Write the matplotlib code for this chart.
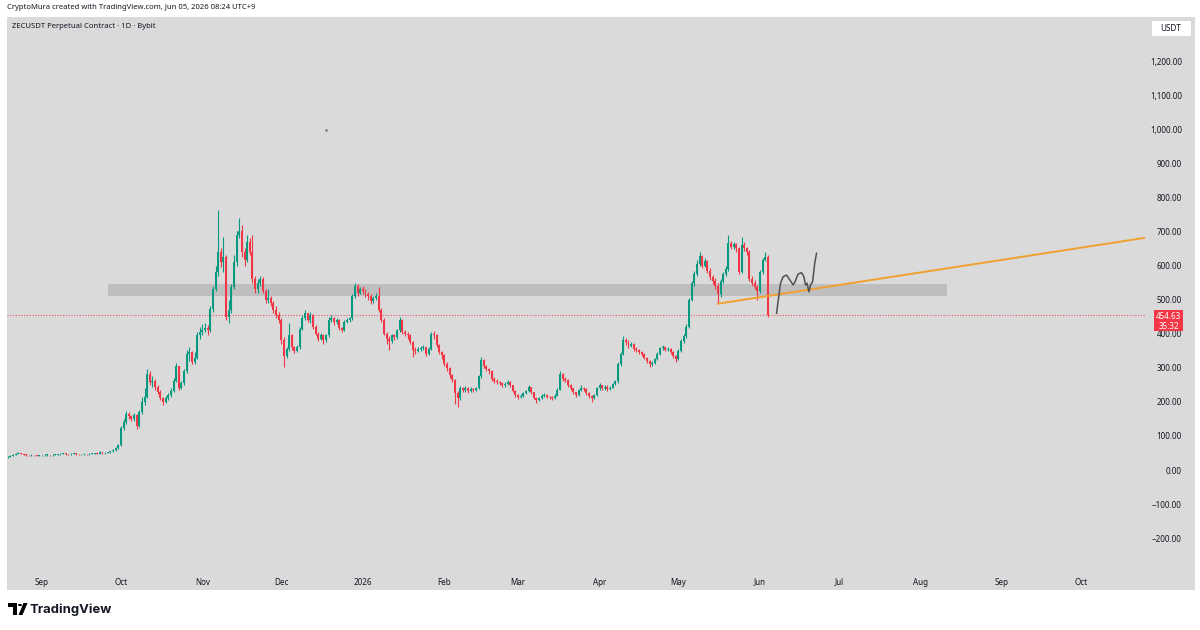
import matplotlib
matplotlib.use('Agg')
import matplotlib.pyplot as plt
import matplotlib.dates as mdates
from matplotlib.patches import Rectangle, FancyBboxPatch, Circle, Polygon
from matplotlib.transforms import blended_transform_factory
import numpy as np
import pandas as pd

plt.rcParams['font.family'] = ['Noto Sans', 'DejaVu Sans']

# ZECUSDT daily candles (close / high / low per month)
close_aug = [38, 41, 44, 47, 50, 48, 45, 44, 43, 44, 43, 42, 43]
high_aug = [40, 43, 46, 49, 53, 51, 48, 46, 45, 46, 45, 44, 45]
low_aug = [36, 37, 40, 43, 46, 46, 43, 42, 41, 42, 41, 40, 41]

close_sep = [43, 44, 44, 43, 44, 45, 46, 47, 48, 47, 46, 47, 48, 47, 46, 46, 47, 46, 47, 48, 49, 48, 52, 49, 50, 52, 55, 58, 64, 72]
high_sep = [45, 46, 46, 45, 46, 47, 48, 49, 50, 49, 48, 49, 50, 49, 48, 48, 49, 48, 49, 50, 51, 50, 55, 53, 52, 54, 57, 61, 67, 76]
low_sep = [41, 42, 42, 41, 42, 43, 44, 45, 46, 45, 44, 45, 46, 45, 44, 44, 45, 44, 45, 46, 47, 46, 47, 47, 48, 49, 51, 54, 57, 62]

close_oct = [123, 140, 165, 158, 150, 162, 128, 170, 200, 215, 282, 258, 262, 245, 230, 212, 200, 210, 220, 232, 262, 305, 242, 255, 290, 340, 345, 318, 330, 395, 405]
high_oct = [130, 150, 172, 170, 162, 168, 165, 175, 214, 240, 296, 290, 275, 268, 250, 235, 215, 216, 226, 240, 270, 313, 305, 262, 296, 352, 360, 350, 345, 405, 420]
low_oct = [70, 118, 135, 150, 145, 145, 120, 126, 165, 190, 210, 250, 245, 235, 222, 205, 190, 198, 205, 215, 228, 258, 235, 238, 250, 285, 320, 310, 312, 325, 385]

close_nov = [412, 418, 410, 472, 530, 580, 640, 610, 625, 450, 470, 537, 610, 690, 700, 640, 615, 670, 640, 560, 530, 550, 560, 525, 500, 505, 490, 470, 455, 440]
high_nov = [428, 430, 425, 480, 540, 600, 762, 650, 683, 630, 500, 545, 630, 700, 740, 720, 650, 690, 680, 690, 570, 560, 570, 565, 530, 530, 510, 495, 480, 465]
low_nov = [395, 405, 395, 405, 465, 525, 570, 595, 580, 440, 430, 460, 530, 600, 680, 625, 600, 610, 630, 548, 520, 520, 540, 518, 490, 490, 480, 460, 445, 430]

close_dec = [380, 335, 355, 395, 360, 350, 360, 415, 445, 460, 440, 455, 420, 400, 385, 395, 380, 395, 440, 445, 435, 440, 418, 412, 435, 440, 445, 510, 540, 520, 530]
high_dec = [445, 390, 362, 430, 400, 365, 368, 420, 455, 470, 462, 465, 458, 425, 405, 402, 398, 400, 450, 455, 448, 446, 442, 420, 440, 446, 450, 515, 550, 545, 538]
low_dec = [370, 302, 330, 350, 352, 342, 345, 355, 410, 440, 435, 432, 415, 395, 378, 380, 370, 375, 390, 435, 425, 428, 410, 405, 408, 430, 435, 440, 505, 510, 515]

close_jan = [525, 515, 510, 495, 505, 510, 470, 440, 400, 385, 378, 395, 390, 410, 440, 405, 400, 395, 375, 352, 350, 355, 358, 360, 340, 355, 400, 395, 368, 345, 338]
high_jan = [540, 532, 522, 515, 510, 518, 537, 475, 445, 405, 392, 400, 400, 415, 448, 442, 412, 405, 398, 378, 360, 362, 365, 368, 362, 360, 405, 408, 398, 370, 350]
low_jan = [515, 508, 500, 488, 490, 500, 465, 435, 395, 370, 352, 372, 382, 385, 405, 398, 392, 385, 370, 332, 340, 345, 350, 352, 335, 338, 352, 385, 362, 340, 325]

close_feb = [310, 300, 280, 265, 225, 210, 240, 235, 240, 232, 238, 236, 240, 275, 322, 305, 295, 290, 268, 260, 258, 255, 250, 252, 258, 248, 232, 220]
high_feb = [340, 318, 302, 282, 268, 232, 246, 245, 246, 244, 244, 242, 245, 280, 332, 325, 308, 300, 292, 272, 266, 262, 258, 258, 264, 260, 250, 235]
low_feb = [305, 290, 270, 258, 195, 185, 205, 228, 230, 226, 228, 230, 232, 238, 270, 298, 290, 282, 262, 254, 252, 248, 244, 245, 248, 244, 228, 215]

close_mar = [215, 218, 225, 232, 243, 228, 212, 205, 210, 218, 220, 215, 213, 212, 218, 235, 282, 268, 265, 250, 240, 228, 220, 235, 242, 238, 225, 218, 210, 220, 240]
high_mar = [224, 222, 228, 236, 248, 245, 230, 214, 214, 222, 225, 222, 218, 216, 222, 240, 290, 286, 272, 268, 252, 242, 230, 238, 248, 245, 240, 228, 220, 224, 244]
low_mar = [208, 210, 214, 222, 230, 224, 208, 196, 202, 208, 214, 210, 208, 206, 209, 216, 234, 262, 258, 245, 235, 222, 214, 218, 232, 232, 220, 212, 200, 208, 218]

close_apr = [248, 240, 245, 238, 242, 252, 260, 310, 340, 380, 375, 365, 370, 355, 352, 345, 340, 330, 320, 310, 315, 325, 340, 358, 360, 352, 355, 345, 335, 325]
high_apr = [254, 250, 250, 248, 246, 256, 264, 318, 346, 392, 388, 380, 376, 372, 360, 356, 348, 342, 332, 322, 320, 330, 345, 362, 368, 364, 360, 358, 348, 338]
low_apr = [236, 236, 236, 232, 235, 240, 248, 256, 305, 336, 368, 358, 360, 350, 346, 340, 334, 325, 315, 302, 306, 312, 322, 338, 352, 348, 348, 340, 330, 318]

close_may = [350, 378, 392, 420, 500, 548, 575, 605, 628, 600, 612, 585, 565, 555, 540, 515, 555, 575, 590, 665, 655, 662, 650, 580, 660, 650, 640, 560, 550, 538, 525]
high_may = [354, 384, 398, 428, 505, 556, 585, 615, 640, 632, 622, 615, 592, 572, 562, 548, 560, 582, 598, 689, 672, 668, 665, 655, 685, 668, 655, 645, 568, 558, 542]
low_may = [322, 345, 372, 388, 418, 495, 540, 570, 600, 592, 595, 578, 558, 545, 530, 490, 508, 550, 570, 585, 648, 648, 640, 575, 578, 642, 632, 555, 540, 530, 498]

close_jun = [580, 615, 625, 454.63]
high_jun = [588, 622, 640, 632]
low_jun = [520, 575, 612, 449]

first_open = 37
start_date = '2025-08-19'

# axis ticks
tick_dates = ['2025-09-01', '2025-10-01', '2025-11-01', '2025-12-01', '2026-01-01', '2026-02-01',
              '2026-03-01', '2026-04-01', '2026-05-01', '2026-06-01', '2026-07-01', '2026-08-01',
              '2026-09-01', '2026-10-01']
tick_labels = ['Sep', 'Oct', 'Nov', 'Dec', '2026', 'Feb', 'Mar', 'Apr', 'May', 'Jun', 'Jul', 'Aug', 'Sep', 'Oct']
price_ticks = [-200, -100, 0, 100, 200, 300, 400, 500, 600, 700, 800, 900, 1000, 1100, 1200]

# drawings
zone_dates = ['2025-09-26', '2026-08-11']
zone_prices = [510, 545]
trend_dates = ['2026-05-16', '2026-10-26']
trend_prices = [488, 682]
sketch_days = [6.3, 7.8, 8.8, 10.1, 11.4, 12.6, 13.3, 14.5, 15.8, 16.7, 17.3, 17.9, 18.6, 19.2, 20.0, 20.8, 21.5]
sketch_prices = [460, 548, 567, 572, 557, 543, 552, 575, 579, 567, 543, 548, 523, 543, 552, 606, 636]
last_price = 454.63
countdown = '35:32'

BG = '#dadada'
UP = '#089981'
DOWN = '#f23645'
TXT = '#131722'

closes = np.array(close_aug + close_sep + close_oct + close_nov + close_dec + close_jan
                  + close_feb + close_mar + close_apr + close_may + close_jun, dtype=float)
highs = np.array(high_aug + high_sep + high_oct + high_nov + high_dec + high_jan
                 + high_feb + high_mar + high_apr + high_may + high_jun, dtype=float)
lows = np.array(low_aug + low_sep + low_oct + low_nov + low_dec + low_jan
                + low_feb + low_mar + low_apr + low_may + low_jun, dtype=float)
opens = np.concatenate([[first_open], closes[:-1]])
dates = pd.date_range(start_date, periods=len(closes), freq='D')
x = mdates.date2num(dates)

W, H = 1200, 630


def fx(px):
    return px / W


def fy(py):
    return 1 - py / H


fig = plt.figure(figsize=(12, 6.3), dpi=100, facecolor='white')
fig.patches.append(Rectangle((fx(7), fy(590)), fx(1195) - fx(7), fy(17) - fy(590),
                             transform=fig.transFigure, color=BG, lw=0, zorder=-10))

ax = fig.add_axes([fx(7), fy(572), fx(1145) - fx(7), fy(17) - fy(572)], zorder=1)
ax.set_facecolor(BG)
for s in ax.spines.values():
    s.set_visible(False)

sep1 = mdates.date2num(pd.Timestamp('2025-09-01'))
px_per_day = 2.63
ax.set_xlim(sep1 - 35 / px_per_day, sep1 + 1103 / px_per_day)
ax.set_ylim(-102 / 0.3408, 453 / 0.3408)

# support zone
z0, z1 = mdates.date2num(pd.to_datetime(zone_dates))
ax.add_patch(Rectangle((z0, zone_prices[0]), z1 - z0, zone_prices[1] - zone_prices[0],
                       color='#bebebe', lw=0, zorder=1))

# candles
up = closes >= opens
cols = np.where(up, UP, DOWN)
ax.vlines(x, lows, highs, colors=cols, lw=0.8, zorder=3)
body = np.maximum(np.abs(closes - opens), 2.0)
ax.bar(x, body, bottom=np.minimum(opens, closes), width=0.75, color=cols, lw=0, zorder=4)

# last price line
ax.axhline(last_price, color=DOWN, lw=0.8, ls=(0, (1, 1.5)), alpha=0.8, zorder=2)

# trend line and sketch
ax.plot(mdates.date2num(pd.to_datetime(trend_dates)), trend_prices, color='#f0a030', lw=1.4, zorder=5)
jun1 = mdates.date2num(pd.Timestamp('2026-06-01'))
ax.plot(jun1 + np.array(sketch_days), sketch_prices, color='#505050', lw=1.1, zorder=5)
ax.plot(mdates.date2num(pd.Timestamp('2025-12-18')), 998, marker='s', ms=0.8, color='#777777', zorder=5)

# x axis
ax.set_xticks(mdates.date2num(pd.to_datetime(tick_dates)))
ax.set_xticklabels(tick_labels)
ax.tick_params(axis='x', length=0, pad=4, labelsize=5.8, labelcolor=TXT)
ax.get_xticklabels()[4].set_fontweight('bold')

# y axis on the right
ax.yaxis.tick_right()
ax.set_yticks(price_ticks)
ax.set_yticklabels([f'{v:,.2f}'.replace('-', '\u2212') for v in price_ticks])
ax.tick_params(axis='y', length=0, pad=26.6, labelsize=5.8, labelcolor=TXT)
for lbl in ax.get_yticklabels():
    lbl.set_horizontalalignment('right')

# price label
blend = blended_transform_factory(ax.transAxes, ax.transData)
aw = 1138.0
ax.add_patch(Rectangle((1 + 9 / aw, last_price - 16 / 0.3408), 29 / aw, 21 / 0.3408,
                       transform=blend, clip_on=False, color=DOWN, lw=0, zorder=6))
ax.text(1 + 23.5 / aw, last_price - 1 / 0.3408, f'{last_price:.2f}', transform=blend,
        ha='center', va='center', color='white', fontsize=5.8, clip_on=False, zorder=7)
ax.text(1 + 23.5 / aw, last_price - 11 / 0.3408, countdown, transform=blend,
        ha='center', va='center', color='white', fontsize=5.8, clip_on=False, zorder=7)

# header texts
fig.text(fx(7), fy(7.5), 'CryptoMura created with TradingView.com, Jun 05, 2026 08:24 UTC+9',
         ha='left', va='center', fontsize=5.5, color=TXT)
fig.text(fx(12), fy(27), 'ZECUSDT Perpetual Contract \u00b7 1D \u00b7 Bybit',
         ha='left', va='center', fontsize=5.5, color=TXT)

# USDT box
fig.patches.append(FancyBboxPatch((fx(1152), fy(36)), fx(1191) - fx(1152), fy(21) - fy(36),
                                  boxstyle='round,pad=0,rounding_size=0.002',
                                  transform=fig.transFigure, color='white', lw=0, zorder=2))
fig.text(fx(1171), fy(28.5), 'USDT', ha='center', va='center', fontsize=5.8, color=TXT, zorder=3)

# TradingView logo
fig.patches.append(Rectangle((fx(8), fy(607)), fx(17) - fx(8), fy(603) - fy(607),
                             transform=fig.transFigure, color='black', lw=0))
fig.patches.append(Rectangle((fx(13), fy(615)), fx(17) - fx(13), fy(603) - fy(615),
                             transform=fig.transFigure, color='black', lw=0))
fig.patches.append(Circle((fx(20), fy(605)), 2.0 / W, transform=fig.transFigure, color='black', lw=0))
fig.patches.append(Polygon([(fx(18.5), fy(615)), (fx(22.5), fy(615)), (fx(27.5), fy(603)), (fx(23.5), fy(603))],
                           closed=True, transform=fig.transFigure, color='black', lw=0))
fig.text(fx(30), fy(609.5), 'TradingView', ha='left', va='center', fontsize=9.4,
         fontweight='bold', family=['Inter', 'DejaVu Sans'], color=TXT)

fig.savefig('out.png', dpi=100, facecolor='white')
